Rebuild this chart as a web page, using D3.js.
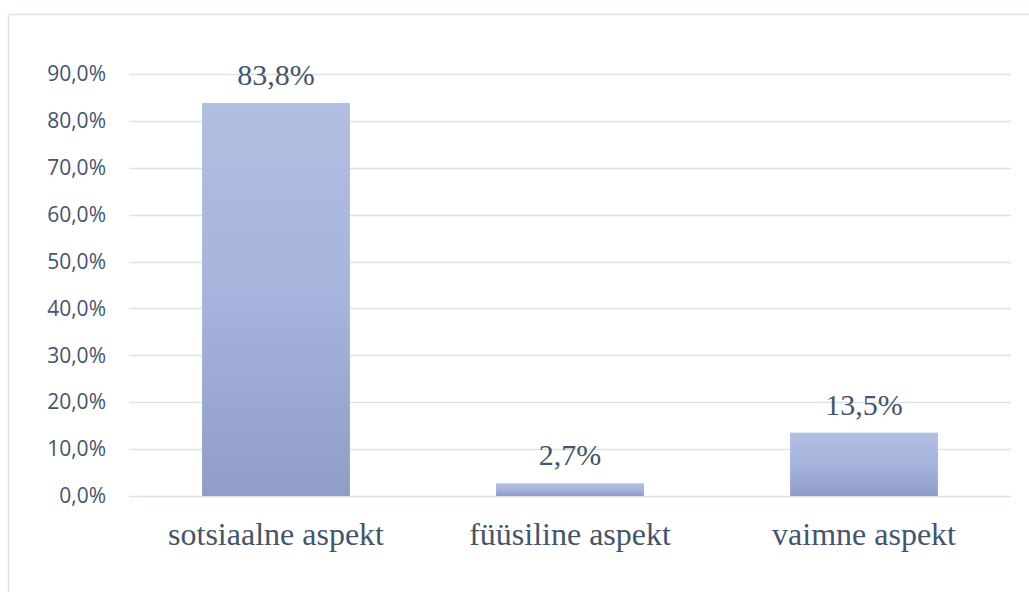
<!DOCTYPE html>
<html>
<head>
<meta charset="utf-8">
<script src="https://cdn.jsdelivr.net/npm/d3@7"></script>
<style>
  body { margin: 0; background: #fff; }
  svg { display: block; }
</style>
</head>
<body>
<div id="chart"></div>
<script>
// data
var categories = ["sotsiaalne aspekt", "füüsiline aspekt", "vaimne aspekt"];
var values = [0.838, 0.027, 0.135];
var yTicks = [0, 0.1, 0.2, 0.3, 0.4, 0.5, 0.6, 0.7, 0.8, 0.9];

var W = 1029, H = 592;
var margin = {top: 74, left: 129, right: 18, bottom: 96};
var width = W - margin.left - margin.right,
    height = H - margin.top - margin.bottom;

var textColor = "#44546a";
var gridColor = "#dde1e8";

var fmt = function(v) { return d3.format(".1f")(v * 100).replace(".", ",") + "%"; };

var svg = d3.select("#chart").append("svg")
  .attr("width", W)
  .attr("height", H);

// outer chart border (runs off the right and bottom edge)
svg.append("rect")
  .attr("x", 8.5).attr("y", 14.5)
  .attr("width", W + 20).attr("height", H + 20)
  .attr("fill", "none")
  .attr("stroke", gridColor)
  .attr("stroke-width", 1.5);

// bar gradient
var grad = svg.append("defs").append("linearGradient")
  .attr("id", "barGrad")
  .attr("x1", "0%").attr("y1", "0%")
  .attr("x2", "0%").attr("y2", "100%");
grad.append("stop").attr("offset", "0%").attr("stop-color", "#b2bee1");
grad.append("stop").attr("offset", "50%").attr("stop-color", "#a6b3dc");
grad.append("stop").attr("offset", "100%").attr("stop-color", "#8f9dc7");

var g = svg.append("g")
  .attr("transform", "translate(" + margin.left + "," + margin.top + ")");

var x = d3.scaleBand()
  .domain(categories)
  .range([0, width])
  .paddingInner(0.497)
  .paddingOuter(0.2485);

var y = d3.scaleLinear()
  .domain([0, 0.9])
  .range([height, 0]);

// gridlines
g.selectAll("line.grid")
  .data(yTicks).enter()
  .append("line")
  .attr("class", "grid")
  .attr("x1", 0).attr("x2", width)
  .attr("y1", function(d) { return Math.round(y(d)) + 0.5; })
  .attr("y2", function(d) { return Math.round(y(d)) + 0.5; })
  .attr("stroke", gridColor)
  .attr("stroke-width", 1.5);

// y axis labels
var yAxis = d3.axisLeft(y)
  .tickValues(yTicks)
  .tickFormat(fmt)
  .tickSize(0)
  .tickPadding(23);

g.append("g")
  .attr("class", "y axis")
  .call(yAxis)
  .call(function(s) { s.select(".domain").remove(); })
  .selectAll("text")
  .attr("fill", textColor)
  .style("font-family", "'Open Sans', 'Noto Sans', sans-serif")
  .style("font-size", "21px");

// bars
g.selectAll("rect.bar")
  .data(values).enter()
  .append("rect")
  .attr("class", "bar")
  .attr("x", function(d, i) { return x(categories[i]); })
  .attr("width", x.bandwidth())
  .attr("y", function(d) { return y(d); })
  .attr("height", function(d) { return height - y(d); })
  .style("fill", "url(#barGrad)");

// value labels
g.selectAll("text.val")
  .data(values).enter()
  .append("text")
  .attr("class", "val")
  .attr("x", function(d, i) { return x(categories[i]) + x.bandwidth() / 2; })
  .attr("y", function(d) { return y(d) - 18; })
  .attr("text-anchor", "middle")
  .attr("fill", textColor)
  .style("font-family", "'Liberation Serif', 'Times New Roman', serif")
  .style("font-size", "30px")
  .text(fmt);

// category labels
var xAxis = d3.axisBottom(x).tickSize(0).tickPadding(0);
g.append("g")
  .attr("class", "x axis")
  .attr("transform", "translate(0," + height + ")")
  .call(xAxis)
  .call(function(s) { s.select(".domain").remove(); })
  .selectAll("text")
  .attr("dy", null)
  .attr("y", 49)
  .attr("fill", textColor)
  .style("font-family", "'Liberation Serif', 'Times New Roman', serif")
  .style("font-size", "32px");
</script>
</body>
</html>
